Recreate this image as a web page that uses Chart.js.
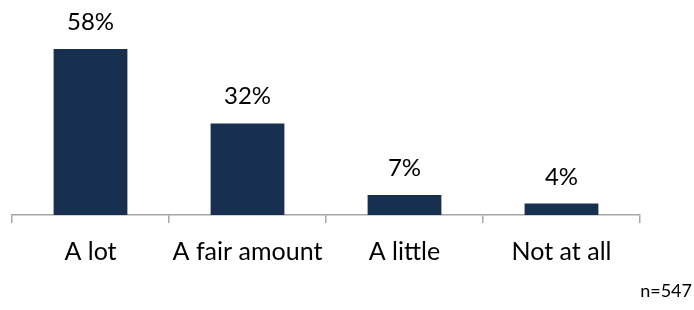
<!DOCTYPE html>
<html>
<head>
<meta charset="utf-8">
<script src="https://cdn.jsdelivr.net/npm/chart.js@4/dist/chart.umd.min.js"></script>
<style>
  html, body { margin: 0; padding: 0; background: #ffffff; }
  #wrap { position: relative; width: 694px; height: 310px; }
  #note { position: absolute; right: 2px; top: 279px; font-family: Lato, sans-serif; font-size: 18px; color: #000; }
</style>
</head>
<body>
<div id="wrap">
  <canvas id="c" width="694" height="310"></canvas>
  <div id="note">n=547</div>
</div>
<script>
const categories = ["A lot", "A fair amount", "A little", "Not at all"];
const values = [58, 32, 7, 4];
const valueLabels = ["58%", "32%", "7%", "4%"];

const labelPlugin = {
  id: 'barLabels',
  afterDatasetsDraw(chart) {
    const ctx = chart.ctx;
    const meta = chart.getDatasetMeta(0);
    ctx.save();
    ctx.font = '24px Lato, sans-serif';
    ctx.fillStyle = '#000';
    ctx.textAlign = 'center';
    ctx.textBaseline = 'alphabetic';
    meta.data.forEach((bar, i) => {
      ctx.fillText(valueLabels[i], bar.x, bar.y - 19);
    });
    ctx.restore();
  }
};

new Chart(document.getElementById('c'), {
  type: 'bar',
  data: {
    labels: categories,
    datasets: [{
      data: values,
      backgroundColor: '#17304F',
      borderWidth: 0,
      barPercentage: 0.94,
      categoryPercentage: 0.5
    }]
  },
  options: {
    responsive: false,
    animation: false,
    layout: { padding: { left: 12, right: 54, top: 9, bottom: 29 } },
    plugins: { legend: { display: false }, tooltip: { enabled: false } },
    scales: {
      x: {
        offset: true,
        grid: { offset: true, drawOnChartArea: false, drawTicks: true, tickLength: 8, color: '#A6A6A6', lineWidth: 1.5 },
        border: { display: true, color: '#A6A6A6', width: 1.5 },
        ticks: { color: '#000', font: { family: 'Lato, sans-serif', size: 25 }, padding: 14 }
      },
      y: {
        display: false,
        min: 0,
        max: 72
      }
    }
  },
  plugins: [labelPlugin]
});
</script>
</body>
</html>
